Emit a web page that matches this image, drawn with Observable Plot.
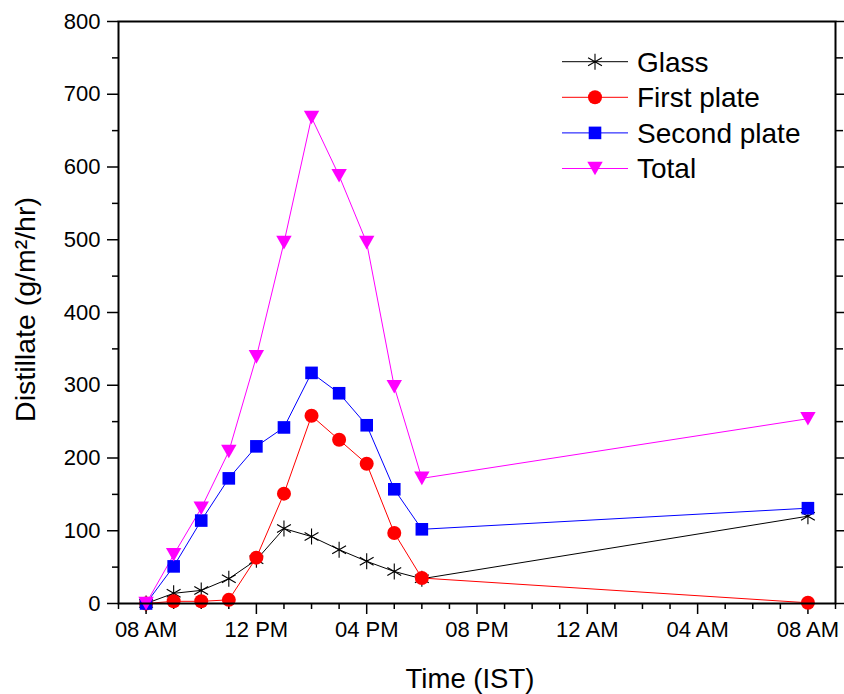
<!DOCTYPE html>
<html><head><meta charset="utf-8">
<script src="https://cdn.jsdelivr.net/npm/d3@7"></script>
<script src="https://cdn.jsdelivr.net/npm/@observablehq/plot@0.6"></script>
<style>
body{margin:0;background:#fff;}
#wrap{position:relative;width:844px;height:694px;font-family:"Liberation Sans",Arial,sans-serif;}
#legend{position:absolute;left:0;top:0;pointer-events:none;}
</style></head><body><div id="wrap"></div>
<script>
// Data (hours since midnight of day 1; 32 = 08 AM next day)
const hours = [8, 9, 10, 11, 12, 13, 14, 15, 16, 17, 18, 32];
const glass = [0, 14, 18, 34, 60, 103, 92, 74, 58, 44, 34, 120];
const firstPlate = [0, 3, 3, 5, 63, 151, 258, 225, 192, 97, 35, 1];
const secondPlate = [0, 51, 114, 172, 216, 242, 317, 289, 245, 157, 102, 131];
const total = [0, 67, 131, 209, 339, 496, 668, 588, 496, 298, 172, 254];
const seriesNames = ["Glass", "First plate", "Second plate", "Total"];
const seriesColors = ["#000000", "#ff0000", "#0000ff", "#ff00ff"];
const xMajorTicks = [8, 12, 16, 20, 24, 28, 32];
const xTickLabels = ["08 AM", "12 PM", "04 PM", "08 PM", "12 AM", "04 AM", "08 AM"];
const xMinorTicks = [7, 9, 10, 11, 13, 14, 15, 17, 18, 19, 21, 22, 23, 25, 26, 27, 29, 30, 31, 33];
const yMajorTicks = [0, 100, 200, 300, 400, 500, 600, 700, 800];
const yMinorTicks = [50, 150, 250, 350, 450, 550, 650, 750];
const xTitle = "Time (IST)";
const yTitle = "Distillate (g/m\u00B2/hr)";

const seriesValues = [glass, firstPlate, secondPlate, total];
const rows = seriesNames.flatMap((s, k) => hours.map((h, i) => ({hour: h, value: seriesValues[k][i], series: s})));

// marker shapes
const symAsterisk = {draw(c) { const r = 8, u = r * Math.sqrt(3) / 2, v = r / 2;
  c.moveTo(0, -r); c.lineTo(0, r); c.moveTo(-u, -v); c.lineTo(u, v); c.moveTo(-u, v); c.lineTo(u, -v); }};
const symCircle = {draw(c) { c.moveTo(7, 0); c.arc(0, 0, 7, 0, 2 * Math.PI); c.closePath(); }};
const symSquare = {draw(c) { c.rect(-6.3, -6.3, 12.6, 12.6); }};
const symTriDown = {draw(c) { c.moveTo(-7.7, -6.8); c.lineTo(7.7, -6.8); c.lineTo(0, 6.8); c.closePath(); }};
const seriesSymbols = [symAsterisk, symCircle, symSquare, symTriDown];

const lineMarks = seriesNames.map((s, k) => Plot.line(rows.filter(d => d.series === s),
  {x: "hour", y: "value", stroke: seriesColors[k], strokeWidth: 1}));
const dotMarks = seriesNames.map((s, k) => Plot.dot(rows.filter(d => d.series === s),
  {x: "hour", y: "value", symbol: seriesSymbols[k],
   fill: k === 0 ? "none" : seriesColors[k],
   stroke: k === 0 ? seriesColors[k] : "none", strokeWidth: k === 0 ? 1.1 : 0}));

const chart = Plot.plot({
  width: 844, height: 694,
  marginLeft: 118, marginRight: 9, marginTop: 21, marginBottom: 91,
  style: {fontFamily: "'Liberation Sans', Arial, sans-serif", fontSize: "22px", color: "#000", background: "#fff", overflow: "visible"},
  x: {domain: [7, 33]},
  y: {domain: [0, 800]},
  marks: [
    Plot.axisX({ticks: xMinorTicks, tickSize: 6, tickFormat: () => "", label: null, strokeWidth: 1.5}),
    Plot.axisX({ticks: xMajorTicks, tickSize: 11, tickPadding: 7, tickFormat: d => xTickLabels[xMajorTicks.indexOf(d)], label: null, strokeWidth: 1.5}),
    Plot.axisY({ticks: yMinorTicks, tickSize: 6, tickFormat: () => "", label: null, strokeWidth: 1.5}),
    Plot.axisY({ticks: yMajorTicks, tickSize: 11, tickPadding: 7, tickFormat: d => String(d), label: null, strokeWidth: 1.5}),
    Plot.axisY({anchor: "right", ticks: yMinorTicks, tickSize: 7, tickFormat: () => "", label: null, strokeWidth: 1.5}),
    Plot.axisY({anchor: "right", ticks: yMajorTicks, tickSize: 9, tickFormat: () => "", label: null, strokeWidth: 1.5}),
    ...lineMarks,
    ...dotMarks,
    Plot.frame({strokeWidth: 2}),
    Plot.text([xTitle], {frameAnchor: "bottom", dx: -7, dy: 84, fontSize: 27.5, lineAnchor: "bottom"}),
    Plot.text([yTitle], {frameAnchor: "left", dx: -84, dy: -3, rotate: -90, fontSize: 28.5, lineAnchor: "bottom", textAnchor: "middle"})
  ]
});
const wrap = document.getElementById("wrap");
wrap.appendChild(chart);

// Legend overlay
const leg = d3.select(wrap).append("svg").attr("id", "legend").attr("width", 844).attr("height", 694);
seriesNames.forEach((name, k) => {
  const g = leg.append("g").attr("transform", `translate(0,${61.7 + k * 35.6})`);
  g.append("line").attr("x1", 562).attr("x2", 628).attr("y1", 0).attr("y2", 0)
    .attr("stroke", seriesColors[k]).attr("stroke-width", 1);
  const p = d3.path(); seriesSymbols[k].draw(p);
  g.append("path").attr("transform", "translate(595,0)").attr("d", p.toString())
    .attr("fill", k === 0 ? "none" : seriesColors[k])
    .attr("stroke", k === 0 ? seriesColors[k] : "none").attr("stroke-width", 1.1);
  g.append("text").attr("x", 637).attr("dy", "0.35em").attr("font-size", 28)
    .attr("font-family", "'Liberation Sans', Arial, sans-serif").attr("fill", "#000").text(name);
});
</script></body></html>
